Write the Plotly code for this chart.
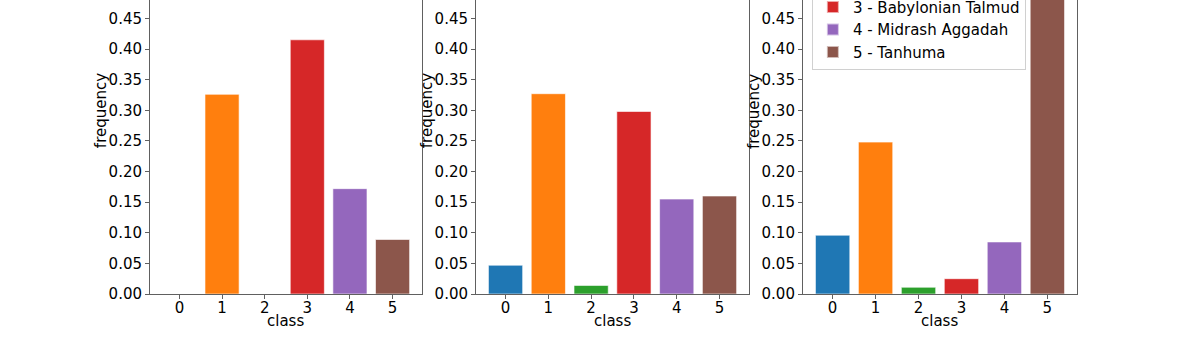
import plotly.graph_objects as go
from plotly.subplots import make_subplots

# class ids and tab10 colours
classes = [0, 1, 2, 3, 4, 5]
class_colors = ['#1f77b4', '#ff7f0e', '#2ca02c', '#d62728', '#9467bd', '#8c564b']
# only the last three legend entries are visible in the picture
legend_names = {3: '3 - Babylonian Talmud', 4: '4 - Midrash Aggadah', 5: '5 - Tanhuma'}

# frequencies per panel
freq_a = [0.0, 0.326, 0.0, 0.415, 0.172, 0.089]
freq_b = [0.047, 0.327, 0.014, 0.298, 0.155, 0.160]
freq_c = [0.096, 0.248, 0.011, 0.025, 0.085, 0.535]
panels = [freq_a, freq_b, freq_c]

FONT = 'DejaVu Sans'
AXIS_COLOR = '#606060'

fig = make_subplots(rows=1, cols=3, horizontal_spacing=0.058)

for col, freqs in enumerate(panels, start=1):
    for cls, val, color in zip(classes, freqs, class_colors):
        show = col == 3 and cls in legend_names
        fig.add_trace(go.Bar(
            x=[cls], y=[val], width=0.8,
            name=legend_names.get(cls, str(cls)),
            legendgroup=str(cls), showlegend=show,
            marker=dict(color=color, line=dict(color='rgba(255,255,255,0.6)', width=1)),
        ), row=1, col=col)

# put domains where the reference axes sit
domains = [[0.0, 0.2934], [0.3517, 0.6462], [0.7044, 1.0]]
for i, dom in enumerate(domains, start=1):
    fig.update_xaxes(domain=dom, row=1, col=i)
    # axis titles as annotations so they sit exactly like matplotlib's
    # (the original axes extend above the cropped top, so the y title sits high)
    xref = 'x domain' if i == 1 else f'x{i} domain'
    yref = 'y domain' if i == 1 else f'y{i} domain'
    fig.add_annotation(text='class', xref=xref, yref=yref, x=0.5, y=0,
                       xanchor='center', yanchor='middle', yshift=-27,
                       showarrow=False, font=dict(size=15))
    fig.add_annotation(text='frequency', xref=xref, yref=yref, x=0, y=0.622,
                       xanchor='center', yanchor='middle', xshift=-49,
                       textangle=-90, showarrow=False, font=dict(size=15))

fig.update_xaxes(
    range=[-0.69, 5.69], tickmode='array', tickvals=classes,
    showline=True, linecolor=AXIS_COLOR, linewidth=1, mirror=False,
    ticks='outside', ticklen=4, tickcolor=AXIS_COLOR, ticklabelstandoff=-4,
    showgrid=False, zeroline=False, automargin=True,
)
fig.update_yaxes(
    range=[0, 0.48], dtick=0.05, tickformat='.2f',
    showline=True, linecolor=AXIS_COLOR, linewidth=1, mirror=True,
    ticks='outside', ticklen=4, tickcolor=AXIS_COLOR,
    showgrid=False, zeroline=False, automargin=True,
)

fig.update_layout(
    width=1196, height=347,
    margin=dict(l=150, r=119, t=0, b=53, autoexpand=False),
    barmode='overlay',
    plot_bgcolor='white', paper_bgcolor='white',
    font=dict(family=FONT, size=15, color='black'),
    legend=dict(
        x=0.714, y=1.035, xanchor='left', yanchor='top',
        bgcolor='rgba(255,255,255,0.9)', bordercolor='#d0d0d0', borderwidth=1,
        font=dict(size=15), tracegroupgap=0, itemsizing='constant',
    ),
)

# the page body has a default 8px margin; drop it so the figure sits at 0,0
fig.write_html('out.html', config={'displayModeBar': False},
               post_script="document.body.style.margin='0';")
